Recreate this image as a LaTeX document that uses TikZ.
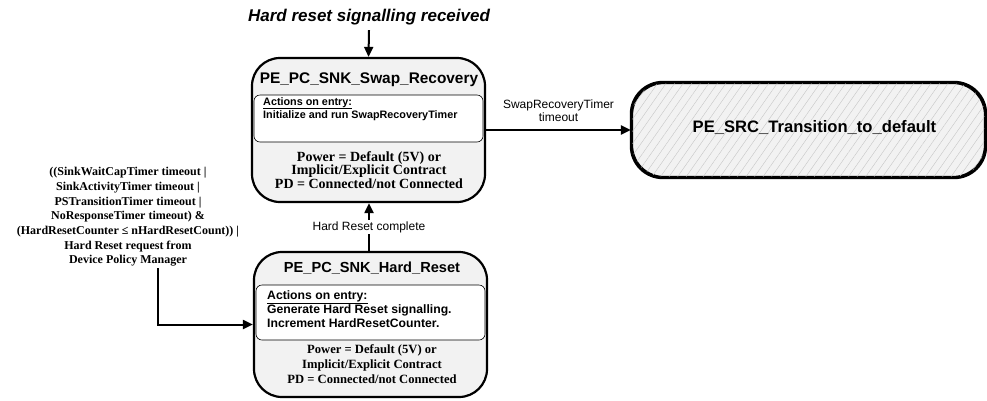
\documentclass[tikz,border=0pt]{standalone}
\usepackage{fontspec}
\setmainfont{Liberation Sans}
\newfontfamily\serifb{Liberation Serif}
\usetikzlibrary{arrows.meta,patterns.meta}
\definecolor{stategray}{HTML}{F2F2F2}
\tikzset{
  statebox/.style={draw, line width=2.2pt, fill=stategray, rounded corners=28pt,
    minimum width=233pt, minimum height=144pt, inner sep=0pt},
  innerbox/.style={draw, line width=0.6pt, fill=white, rounded corners=6pt,
    minimum width=229pt, inner sep=0pt},
  hdr/.style={inner sep=0pt},
  acts/.style={anchor=north west, align=left, inner sep=0pt},
  pow/.style={align=center, inner sep=0pt},
  lbl/.style={align=center, inner sep=1pt, font=\fontsize{12}{13.5}\selectfont},
  arr/.style={line width=2pt, -{Triangle[length=10pt,width=9pt]}},
}
\begin{document}
\begin{tikzpicture}[x=1pt,y=-1pt]
\useasboundingbox (0,0) rectangle (987,400);

% title
\node[font=\bfseries\itshape\fontsize{17}{19}\selectfont, inner sep=0pt] (title) at (369,17) {Hard reset signalling received};

% Swap recovery state
\node[statebox] (swap) at (368.5,130) {};
\node[innerbox, minimum height=47pt] (swapin) at (368.5,118.5) {};
\node[hdr, font=\bfseries\fontsize{15.4}{17}\selectfont] (swaph) at (369,80) {PE\_PC\_SNK\_Swap\_Recovery};
\node[acts, font=\bfseries\fontsize{10.8}{11.5}\selectfont] (swapa) at (263,97) {\underline{Actions on entry:}\\Initialize and run SwapRecoveryTimer};
\node[pow, font=\serifb\bfseries\fontsize{14}{13.5}\selectfont] (swapp) at (369,170) {Power = Default (5V) or\\Implicit/Explicit Contract\\PD = Connected/not Connected};

% Hard reset state
\node[statebox, minimum height=145pt] (hard) at (370.5,324.5) {};
\node[innerbox, minimum height=55pt] (hardin) at (370.5,312.5) {};
\node[hdr, font=\bfseries\fontsize{14.6}{17}\selectfont] (hardh) at (372,268) {PE\_PC\_SNK\_Hard\_Reset};
\node[acts, font=\bfseries\fontsize{12.2}{14}\selectfont] (harda) at (267,290) {\underline{Actions on entry:}\\Generate Hard Reset signalling.\\Increment HardResetCounter.};
\node[pow, font=\serifb\bfseries\fontsize{12.6}{15}\selectfont] (hardp) at (372,364) {Power = Default (5V) or\\Implicit/Explicit Contract\\PD = Connected/not Connected};

% Transition to default
\node[draw, line width=2.2pt, fill=stategray, rounded corners=32pt,
  minimum width=353pt, minimum height=94pt, inner sep=0pt] (trans) at (808.5,130) {};
\path[pattern={Lines[angle=55,distance=7pt,line width=0.4pt]}, pattern color=gray!45, rounded corners=31pt]
  ([xshift=1.5pt,yshift=1.5pt]trans.south west) rectangle ([xshift=-1.5pt,yshift=-1.5pt]trans.north east);
\draw[line width=2.2pt, rounded corners=32pt] (trans.south west) rectangle (trans.north east);
\node[hdr, font=\bfseries\fontsize{16.6}{18}\selectfont] (transh) at (814.5,127) {PE\_SRC\_Transition\_to\_default};

% condition text
\node[align=center, inner sep=0pt, font=\serifb\bfseries\fontsize{12}{14.7}\selectfont] (cond) at (128,217)
  {((SinkWaitCapTimer timeout |\\SinkActivityTimer timeout |\\PSTransitionTimer timeout |\\NoResponseTimer timeout) \&\\(HardResetCounter ≤ nHardResetCount)) |\\Hard Reset request from\\Device Policy Manager};
\coordinate (c0) at (158,268);

% connectors
\draw[arr] ([yshift=-5pt]title.south) -- (swap.north);
\draw[arr] (swap.east) -- (trans.west)
  node[lbl, midway, above=6pt] {SwapRecoveryTimer\\timeout};
\draw[arr] (hard.north -| 369,0) -- (swap.south -| 369,0)
  node[lbl, midway, fill=white] {Hard Reset complete};
\draw[arr] (c0) |- (hard.west);
\end{tikzpicture}
\end{document}
